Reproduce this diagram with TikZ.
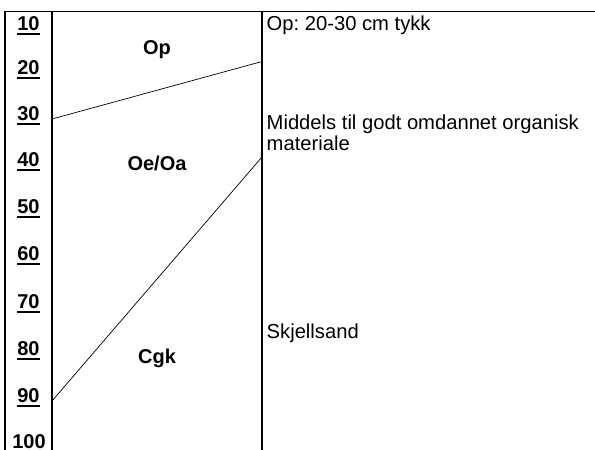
\documentclass[tikz,border=0pt]{standalone}
\usepackage{fontspec}
\setmainfont{Liberation Sans}
\frenchspacing
\newcommand\depthul[1]{\setbox0\hbox{#1}\rlap{\rule[-4.5pt]{\wd0}{2pt}}\box0}
\begin{document}
\begin{tikzpicture}[x=1pt,y=-1pt,
  frame/.style={line width=1.1pt},
  bound/.style={line width=0.7pt},
  depthlbl/.style={anchor=base,inner sep=0pt,font=\fontsize{20}{22}\selectfont\bfseries},
  horizon/.style={anchor=base,inner sep=0pt,font=\fontsize{20}{22}\selectfont\bfseries},
  desc/.style={anchor=base west,inner sep=0pt,align=left,font=\fontsize{20.2}{21}\selectfont}]
\useasboundingbox (0,0) rectangle (595,450);
% frame
\coordinate (tl) at (5,11.5);
\coordinate (tr) at (600,11.5);
\coordinate (bl) at (5,460);
\coordinate (m1t) at (52,11.5);
\coordinate (m1b) at (52,460);
\coordinate (m2t) at (262,11.5);
\coordinate (m2b) at (262,460);
\draw[frame] (bl) -- (tl) -- (tr);
\draw[frame] (m1t) -- (m1b);
\draw[frame] (m2t) -- (m2b);
% horizon boundaries
\coordinate (b1l) at (52,119);
\coordinate (b1r) at (262,61.5);
\coordinate (b2l) at (52,401);
\coordinate (b2r) at (262,157);
\draw[bound] (b1l) -- (b1r);
\draw[bound] (b2l) -- (b2r);
% depth labels
\node[depthlbl] (d10) at (28.5,30.5) {\depthul{10}};
\node[depthlbl] (d20) at (28.5,74) {\depthul{20}};
\node[depthlbl] (d30) at (28.5,120) {\depthul{30}};
\node[depthlbl] (d40) at (28.5,166.5) {\depthul{40}};
\node[depthlbl] (d50) at (28.5,213.5) {\depthul{50}};
\node[depthlbl] (d60) at (28.5,260.5) {\depthul{60}};
\node[depthlbl] (d70) at (28.5,308.5) {\depthul{70}};
\node[depthlbl] (d80) at (28.5,355.5) {\depthul{80}};
\node[depthlbl] (d90) at (28.5,402.5) {\depthul{90}};
\node[depthlbl] (d100) at (29,448.5) {100};
% horizon names
\node[horizon] (op) at (157,54) {Op};
\node[horizon] (oe) at (157,170.5) {Oe/Oa};
\node[horizon] (cgk) at (157,363) {Cgk};
% descriptions
\node[desc] (t1) at (266.5,30.5) {Op: 20-30 cm tykk};
\node[desc] (t2) at (266.5,150) {Middels til godt omdannet organisk\\materiale};
\node[desc] (t3) at (266.5,338) {Skjellsand};
\end{tikzpicture}
\end{document}
